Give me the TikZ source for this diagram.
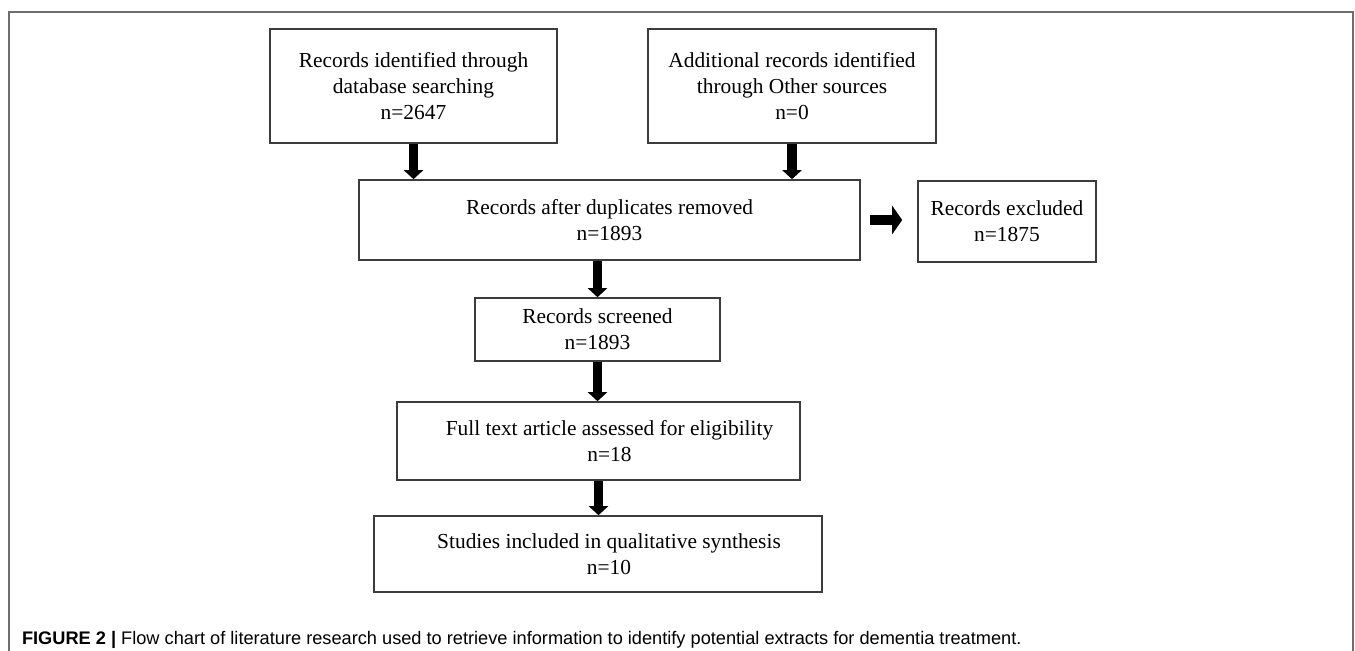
\documentclass[tikz,border=0pt]{standalone}
\usepackage{fontspec}
\setmainfont{Liberation Serif}
\setsansfont{Liberation Sans}
\usetikzlibrary{arrows.meta}
\definecolor{boxline}{RGB}{60,60,60}
\definecolor{frameline}{RGB}{110,110,110}

\begin{document}
\begin{tikzpicture}[x=0.5pt,y=-0.5pt,
                    box/.style={draw=boxline,line width=0.8pt,align=center,inner sep=0pt,
                                font=\fontsize{10.7}{13}\selectfont},
                    fat/.style={line width=4.8pt,-{Triangle[width=9.5pt,length=4.5pt]}}]
                    \useasboundingbox (0,0) rectangle (1355,651);
                    \draw[frameline,line width=0.7pt] (9,651) -- (9,12) -- (1353,12) -- (1353,651);

                    \node[box,minimum width=143.5pt,minimum height=57pt] (db) at (413.5,86)
                        {Records identified through\\database searching\\n=2647};
                    \node[box,minimum width=144pt,minimum height=57pt] (other) at (792,86)
                        {Additional records identified\\through Other sources\\n=0};
                    \node[box,minimum width=250.5pt,minimum height=40pt] (dup) at (609.5,220)
                        {Records after duplicates removed\\n=1893};
                    \node[box,minimum width=89pt,minimum height=40.5pt] (excl) at (1007,221.5)
                        {Records excluded\\n=1875};
                    \node[box,minimum width=122.5pt,minimum height=31.5pt] (screen) at (597.5,329.5)
                        {Records screened\\n=1893};
                    \node[box,minimum width=201.5pt,minimum height=39pt] (full) at (598.5,441)
                        {\hspace*{11pt}Full text article assessed for eligibility\\\hspace*{11pt}n=18};
                    \node[box,minimum width=224pt,minimum height=38pt] (incl) at (598,554)
                        {\hspace*{11pt}Studies included in qualitative synthesis\\\hspace*{11pt}n=10};

                    \draw[fat] (db.south) -- (db.south |- dup.north);
                    \draw[fat] (other.south) -- (other.south |- dup.north);
                    \draw[line width=4.8pt,-{Triangle[width=14pt,length=5pt]},shorten <=4.5pt,shorten >=7.5pt]
                        (dup.east) -- (dup.east -| excl.west);
                    \draw[fat] (screen.north |- dup.south) -- (screen.north);
                    \draw[fat] (screen.south) -- (screen.south |- full.north);
                    \draw[fat] (full.south) -- (full.south |- incl.north);

                    \node[anchor=base west,font=\sffamily\fontsize{9.1}{11}\selectfont] (cap) at (15,645)
                        {\textbf{FIGURE 2 |} Flow chart of literature research used to retrieve information to identify potential extracts for dementia treatment.};
                \end{tikzpicture}
\end{document}
